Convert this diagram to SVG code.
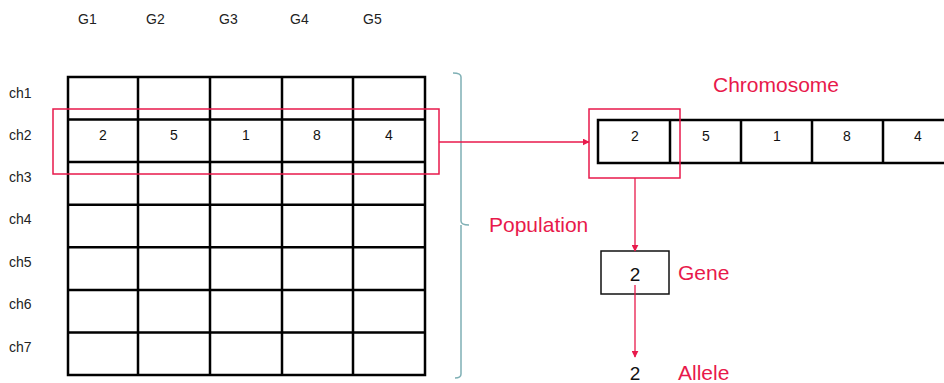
<svg xmlns="http://www.w3.org/2000/svg" width="944" height="383" viewBox="0 0 944 383">
<defs>
<style>
.t{font-family:"Liberation Sans","Open Sans",sans-serif;fill:#222;font-size:14px}
.v{font-family:"Liberation Sans","Open Sans",sans-serif;fill:#111;font-size:14px;text-anchor:middle}
.r{font-family:"Liberation Sans","Open Sans",sans-serif;fill:#e8194b;font-size:21px}
.b{font-family:"Liberation Sans","Open Sans",sans-serif;fill:#111;font-size:19px;text-anchor:middle}
.g{fill:none;stroke:#000;stroke-width:2.5}
.hl{fill:none;stroke:#e8194b;stroke-width:1.5}
.c{fill:none;stroke:#e8194b;stroke-width:1.3}
</style>
<marker id="ah" viewBox="0 0 10 10" refX="9" refY="5" markerWidth="7" markerHeight="7" orient="auto" markerUnits="userSpaceOnUse">
<path d="M0,0 L10,5 L0,10 z" fill="#e8194b"/>
</marker>
</defs>
<rect width="944" height="383" fill="#fff"/>

<g id="col-labels" class="t">
<text x="78" y="24">G1</text>
<text x="146" y="24">G2</text>
<text x="219" y="24">G3</text>
<text x="290" y="24">G4</text>
<text x="363" y="24">G5</text>
</g>
<g id="row-labels" class="t">
<text x="9" y="98">ch1</text>
<text x="9" y="140">ch2</text>
<text x="9" y="182">ch3</text>
<text x="9" y="224">ch4</text>
<text x="9" y="267">ch5</text>
<text x="9" y="309">ch6</text>
<text x="9" y="352">ch7</text>
</g>

<g id="population-grid">
<rect class="g" x="68" y="77" width="357" height="298"/>
<path class="g" d="M138,77V375M210,77V375M282,77V375M353,77V375M68,119.6H425M68,162.1H425M68,204.7H425M68,247.3H425M68,289.9H425M68,332.4H425"/>
<g class="v">
<text x="103" y="140">2</text>
<text x="174" y="140">5</text>
<text x="246" y="140">1</text>
<text x="317" y="140">8</text>
<text x="389" y="140">4</text>
</g>
<rect id="ch2-highlight" class="hl" x="53" y="109" width="386" height="65"/>
</g>

<g id="population-brace">
<path d="M453,73 Q461,73 461,77 V221 Q461,225 469,225 M461,225 Q461,229 461,233 V374 Q461,378 455,378" fill="none" stroke="#7fb0b5" stroke-width="1.5"/>
<text class="r" x="489" y="232">Population</text>
</g>

<g id="chromosome">
<text class="r" x="713" y="92">Chromosome</text>
<path class="g" d="M955,120H598V163H955M670,120V163M741,120V163M812,120V163M883,120V163"/>
<g class="v">
<text x="635" y="141">2</text>
<text x="706" y="141">5</text>
<text x="777" y="141">1</text>
<text x="847" y="141">8</text>
<text x="918" y="141">4</text>
</g>
<rect id="gene-highlight" class="hl" x="589" y="109" width="91" height="69"/>
</g>

<g id="gene">
<rect x="601" y="251" width="68" height="43" fill="none" stroke="#111" stroke-width="1.5"/>
<text class="b" x="635" y="281">2</text>
<text class="r" x="678" y="280">Gene</text>
</g>

<g id="allele">
<text class="b" x="635" y="380">2</text>
<text class="r" x="678" y="380">Allele</text>
</g>

<g id="connectors">
<path class="c" d="M439,142 L589,142" marker-end="url(#ah)"/>
<path class="c" d="M635,178 L635,251" marker-end="url(#ah)"/>
<path class="c" d="M635,285 L635,357" marker-end="url(#ah)"/>
</g>
</svg>
